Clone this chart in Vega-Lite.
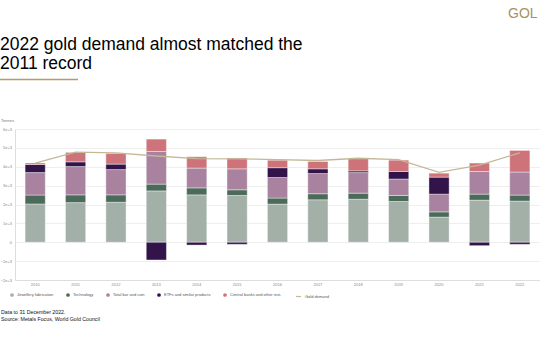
{
  "$schema": "https://vega.github.io/schema/vega-lite/v6.json",
  "autosize": {"type": "none"},
  "padding": {"left": 15, "top": 129, "right": 0, "bottom": 80},
  "width": 525,
  "height": 151,
  "background": "white",
  "config": {"font": "Liberation Sans", "view": {"stroke": null}},
  "title": {
    "text": ["2022 gold demand almost matched the", "2011 record"],
    "anchor": "start",
    "frame": "group",
    "dx": -15,
    "offset": -65.5,
    "fontSize": 17.5,
    "fontWeight": "normal",
    "color": "#000000",
    "lineHeight": 19.5,
    "font": "Liberation Sans"
  },
  "datasets": {
    "bars": [
      {"year": "2010", "category": "Jewellery fabrication", "k": 1, "value": 2030},
      {"year": "2010", "category": "Technology", "k": 2, "value": 470},
      {"year": "2010", "category": "Total bar and coin", "k": 3, "value": 1190},
      {"year": "2010", "category": "ETFs and similar products", "k": 4, "value": 430},
      {"year": "2010", "category": "Central banks and other inst.", "k": 5, "value": 80},
      {"year": "2011", "category": "Jewellery fabrication", "k": 1, "value": 2100},
      {"year": "2011", "category": "Technology", "k": 2, "value": 410},
      {"year": "2011", "category": "Total bar and coin", "k": 3, "value": 1500},
      {"year": "2011", "category": "ETFs and similar products", "k": 4, "value": 250},
      {"year": "2011", "category": "Central banks and other inst.", "k": 5, "value": 500},
      {"year": "2012", "category": "Jewellery fabrication", "k": 1, "value": 2120},
      {"year": "2012", "category": "Technology", "k": 2, "value": 390},
      {"year": "2012", "category": "Total bar and coin", "k": 3, "value": 1340},
      {"year": "2012", "category": "ETFs and similar products", "k": 4, "value": 290},
      {"year": "2012", "category": "Central banks and other inst.", "k": 5, "value": 565},
      {"year": "2013", "category": "Jewellery fabrication", "k": 1, "value": 2720},
      {"year": "2013", "category": "Technology", "k": 2, "value": 360},
      {"year": "2013", "category": "Total bar and coin", "k": 3, "value": 1730},
      {"year": "2013", "category": "ETFs and similar products", "k": 4, "value": -940},
      {"year": "2013", "category": "Central banks and other inst.", "k": 5, "value": 655},
      {"year": "2014", "category": "Jewellery fabrication", "k": 1, "value": 2510},
      {"year": "2014", "category": "Technology", "k": 2, "value": 370},
      {"year": "2014", "category": "Total bar and coin", "k": 3, "value": 1050},
      {"year": "2014", "category": "ETFs and similar products", "k": 4, "value": -150},
      {"year": "2014", "category": "Central banks and other inst.", "k": 5, "value": 600},
      {"year": "2015", "category": "Jewellery fabrication", "k": 1, "value": 2480},
      {"year": "2015", "category": "Technology", "k": 2, "value": 300},
      {"year": "2015", "category": "Total bar and coin", "k": 3, "value": 1110},
      {"year": "2015", "category": "ETFs and similar products", "k": 4, "value": -110},
      {"year": "2015", "category": "Central banks and other inst.", "k": 5, "value": 570},
      {"year": "2016", "category": "Jewellery fabrication", "k": 1, "value": 2020},
      {"year": "2016", "category": "Technology", "k": 2, "value": 320},
      {"year": "2016", "category": "Total bar and coin", "k": 3, "value": 1090},
      {"year": "2016", "category": "ETFs and similar products", "k": 4, "value": 520},
      {"year": "2016", "category": "Central banks and other inst.", "k": 5, "value": 400},
      {"year": "2017", "category": "Jewellery fabrication", "k": 1, "value": 2250},
      {"year": "2017", "category": "Technology", "k": 2, "value": 320},
      {"year": "2017", "category": "Total bar and coin", "k": 3, "value": 1070},
      {"year": "2017", "category": "ETFs and similar products", "k": 4, "value": 250},
      {"year": "2017", "category": "Central banks and other inst.", "k": 5, "value": 390},
      {"year": "2018", "category": "Jewellery fabrication", "k": 1, "value": 2280},
      {"year": "2018", "category": "Technology", "k": 2, "value": 320},
      {"year": "2018", "category": "Total bar and coin", "k": 3, "value": 1090},
      {"year": "2018", "category": "ETFs and similar products", "k": 4, "value": 90},
      {"year": "2018", "category": "Central banks and other inst.", "k": 5, "value": 650},
      {"year": "2019", "category": "Jewellery fabrication", "k": 1, "value": 2160},
      {"year": "2019", "category": "Technology", "k": 2, "value": 320},
      {"year": "2019", "category": "Total bar and coin", "k": 3, "value": 870},
      {"year": "2019", "category": "ETFs and similar products", "k": 4, "value": 400},
      {"year": "2019", "category": "Central banks and other inst.", "k": 5, "value": 600},
      {"year": "2020", "category": "Jewellery fabrication", "k": 1, "value": 1330},
      {"year": "2020", "category": "Technology", "k": 2, "value": 280},
      {"year": "2020", "category": "Total bar and coin", "k": 3, "value": 940},
      {"year": "2020", "category": "ETFs and similar products", "k": 4, "value": 900},
      {"year": "2020", "category": "Central banks and other inst.", "k": 5, "value": 210},
      {"year": "2021", "category": "Jewellery fabrication", "k": 1, "value": 2230},
      {"year": "2021", "category": "Technology", "k": 2, "value": 320},
      {"year": "2021", "category": "Total bar and coin", "k": 3, "value": 1200},
      {"year": "2021", "category": "ETFs and similar products", "k": 4, "value": -180},
      {"year": "2021", "category": "Central banks and other inst.", "k": 5, "value": 445},
      {"year": "2022", "category": "Jewellery fabrication", "k": 1, "value": 2180},
      {"year": "2022", "category": "Technology", "k": 2, "value": 320},
      {"year": "2022", "category": "Total bar and coin", "k": 3, "value": 1220},
      {"year": "2022", "category": "ETFs and similar products", "k": 4, "value": -110},
      {"year": "2022", "category": "Central banks and other inst.", "k": 5, "value": 1145}
    ],
    "line": [
      {"year": "2010", "series": "Gold demand", "value": 4190},
      {"year": "2011", "series": "Gold demand", "value": 4770},
      {"year": "2012", "series": "Gold demand", "value": 4740},
      {"year": "2013", "series": "Gold demand", "value": 4570},
      {"year": "2014", "series": "Gold demand", "value": 4430},
      {"year": "2015", "series": "Gold demand", "value": 4420},
      {"year": "2016", "series": "Gold demand", "value": 4380},
      {"year": "2017", "series": "Gold demand", "value": 4330},
      {"year": "2018", "series": "Gold demand", "value": 4450},
      {"year": "2019", "series": "Gold demand", "value": 4380},
      {"year": "2020", "series": "Gold demand", "value": 3700},
      {"year": "2021", "series": "Gold demand", "value": 4080},
      {"year": "2022", "series": "Gold demand", "value": 4740}
    ]
  },
  "layer": [
    {
      "data": {"name": "bars"},
      "mark": {"type": "bar", "stroke": "white", "strokeWidth": 0.4},
      "encoding": {
        "x": {
          "field": "year",
          "type": "ordinal",
          "scale": {"paddingInner": 0.5, "paddingOuter": 0.25},
          "axis": {
            "title": ["Data to 31 December 2022.", "Source: Metals Focus, World Gold Council"],
            "titleX": -14.5,
            "titleY": 33.7,
            "titleAlign": "left",
            "titleAnchor": "start",
            "titleBaseline": "alphabetic",
            "titleFontSize": 5.25,
            "titleFontWeight": "normal",
            "titleColor": "#111111",
            "titleLineHeight": 7.3,
            "labelFontSize": 4,
            "labelColor": "#888888",
            "labelAngle": 0,
            "labelPadding": 2,
            "labelOverlap": false,
            "ticks": false,
            "domain": true,
            "domainColor": "#dddddd",
            "grid": false
          }
        },
        "y": {
          "field": "value",
          "type": "quantitative",
          "stack": "zero",
          "scale": {"domain": [-2000, 6000], "nice": false},
          "axis": {
            "title": "Tonnes",
            "titleAngle": 0,
            "titleX": -14.5,
            "titleY": -7.8,
            "titleAlign": "left",
            "titleBaseline": "alphabetic",
            "titleFontSize": 4,
            "titleFontWeight": "normal",
            "titleColor": "#777777",
            "values": [-2000, -1000, 0, 1000, 2000, 3000, 4000, 5000, 6000],
            "tickCount": 12,
            "format": ",",
            "labelFontSize": 4,
            "labelColor": "#888888",
            "labelPadding": 3.5,
            "labelOverlap": false,
            "labelBound": false,
            "ticks": false,
            "domain": true,
            "domainColor": "#dddddd",
            "gridColor": "#eeeeee",
            "gridWidth": 1
          }
        },
        "color": {
          "field": "category",
          "type": "nominal",
          "scale": {
            "domain": ["Jewellery fabrication", "Technology", "Total bar and coin", "ETFs and similar products", "Central banks and other inst."],
            "range": ["#a2b0a7", "#4b6a59", "#a8829f", "#32144a", "#cf737b"]
          },
          "legend": {
            "orient": "none",
            "legendX": -5,
            "legendY": 164,
            "direction": "horizontal",
            "columns": 5,
            "title": null,
            "symbolType": "circle",
            "symbolSize": 14,
            "symbolStrokeWidth": 0,
            "labelFontSize": 4,
            "labelColor": "#555555",
            "labelOffset": 3,
            "columnPadding": 12,
            "padding": 0
          }
        },
        "order": {"field": "k", "type": "quantitative"}
      }
    },
    {
      "data": {"name": "line"},
      "mark": {"type": "line", "strokeWidth": 1.3},
      "encoding": {
        "x": {"field": "year", "type": "ordinal"},
        "y": {"field": "value", "type": "quantitative"},
        "stroke": {
          "field": "series",
          "type": "nominal",
          "scale": {"domain": ["Gold demand"], "range": ["#c5b898"]},
          "legend": {
            "orient": "none",
            "legendX": 280,
            "legendY": 164,
            "direction": "horizontal",
            "title": null,
            "symbolType": "stroke",
            "symbolSize": 25,
            "symbolStrokeWidth": 1.2,
            "labelFontSize": 4,
            "labelColor": "#555555",
            "labelOffset": 3,
            "padding": 0
          }
        }
      }
    },
    {
      "data": {"values": [{"t": "GOL"}]},
      "mark": {"type": "text", "font": "Liberation Sans", "fontSize": 14, "color": "#a8925f", "align": "left", "baseline": "alphabetic"},
      "encoding": {
        "text": {"field": "t"},
        "x": {"value": 493},
        "y": {"value": -111}
      }
    },
    {
      "data": {"values": [{}]},
      "mark": {"type": "rule", "color": "#b39c67", "strokeWidth": 1.6},
      "encoding": {
        "x": {"value": -15},
        "x2": {"value": 63},
        "y": {"value": -49.5}
      }
    }
  ]
}
